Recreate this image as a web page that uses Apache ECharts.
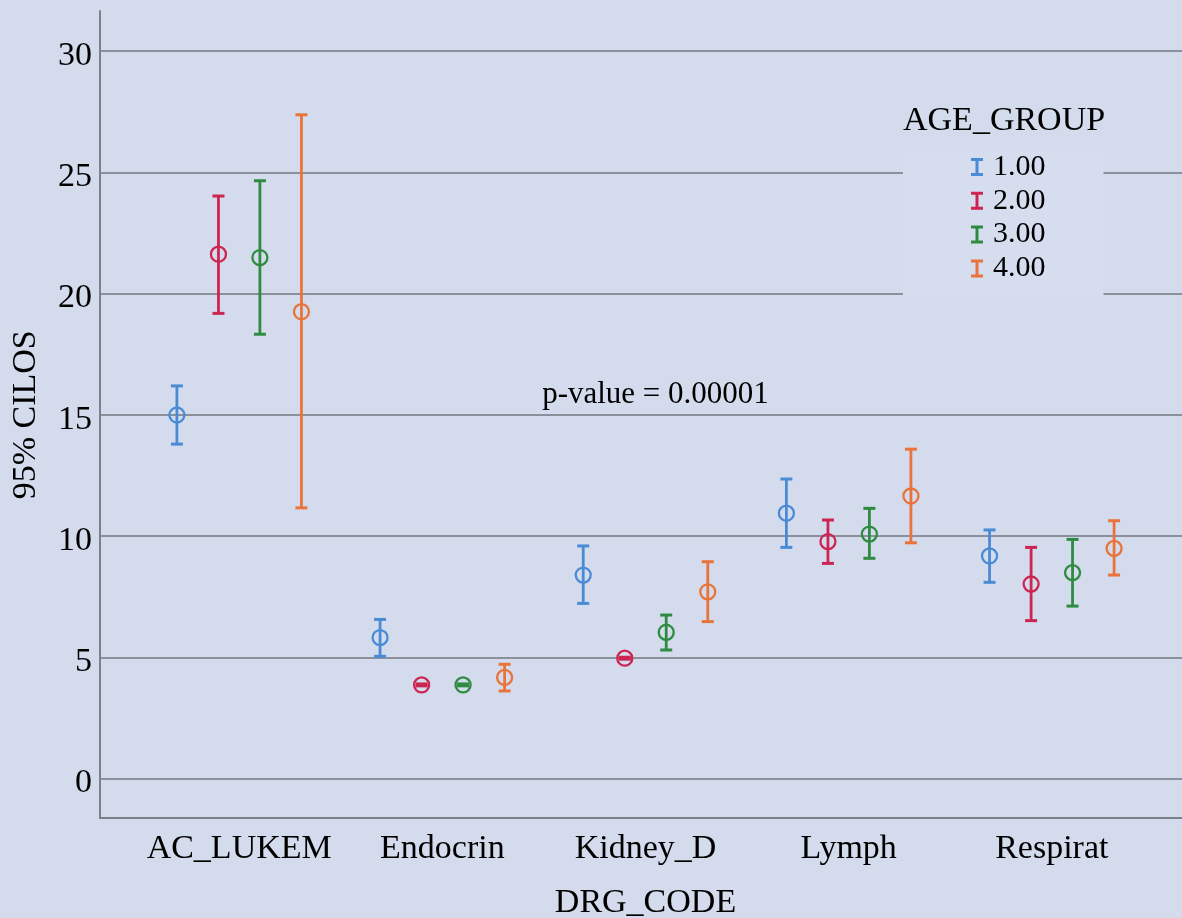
<!DOCTYPE html>
<html>
<head>
<meta charset="utf-8">
<script src="https://cdn.jsdelivr.net/npm/echarts@6/dist/echarts.min.js"></script>
<style>
html,body{margin:0;padding:0;background:#d4dbed;}
#chart{width:1182px;height:918px;}
</style>
</head>
<body>
<div id="chart"></div>
<script>
// ---- data ----
const categories = ['AC_LUKEM', 'Endocrin', 'Kidney_D', 'Lymph', 'Respirat'];
const groupNames = ['1.00', '2.00', '3.00', '4.00'];
const yTicks = [0, 5, 10, 15, 20, 25, 30];

const mean1  = [14.99, 5.81, 8.39, 10.94, 9.18];
const lower1 = [13.79, 5.04, 7.22, 9.53, 8.09];
const upper1 = [16.19, 6.56, 9.59, 12.35, 10.25];

const mean2  = [21.62, 3.86, 4.96, 9.77, 8.02];
const lower2 = [19.18, 3.82, 4.92, 8.87, 6.51];
const upper2 = [24.02, 3.90, 5.00, 10.66, 9.53];

const mean3  = [21.48, 3.86, 6.03, 10.08, 8.49];
const lower3 = [18.32, 3.82, 5.30, 9.08, 7.11];
const upper3 = [24.65, 3.90, 6.74, 11.14, 9.86];

const mean4  = [19.25, 4.17, 7.70, 11.65, 9.49];
const lower4 = [11.16, 3.61, 6.47, 9.72, 8.39];
const upper4 = [27.37, 4.71, 8.94, 13.58, 10.63];

const means = [mean1, mean2, mean3, mean4];
const lowers = [lower1, lower2, lower3, lower4];
const uppers = [upper1, upper2, upper3, upper4];

// ---- style ----
const colors = ['#4a8bd6', '#cc2552', '#2f8b3f', '#e8743b'];
const offsets = [-0.3065, -0.102, 0.102, 0.3065];
const FONT = 'Liberation Serif';
const gridColor = '#8b909b';
const axisColor = '#7b808a';

function makeRender(si) {
  return function (params, api) {
    const ci = api.value(0);
    const m = api.coord([ci, api.value(1)]);
    const lo = api.coord([ci, api.value(2)]);
    const hi = api.coord([ci, api.value(3)]);
    const bw = api.size([1, 0])[0];
    const x = m[0] + offsets[si] * bw;
    const c = api.visual('color');
    const cw = 6;
    return {
      type: 'group',
      children: [
        { type: 'line', shape: { x1: x, y1: hi[1], x2: x, y2: lo[1] }, style: { stroke: c, lineWidth: 2.8 } },
        { type: 'line', shape: { x1: x - cw, y1: hi[1], x2: x + cw, y2: hi[1] }, style: { stroke: c, lineWidth: 3 } },
        { type: 'line', shape: { x1: x - cw, y1: lo[1], x2: x + cw, y2: lo[1] }, style: { stroke: c, lineWidth: 3 } },
        { type: 'circle', shape: { cx: x, cy: m[1], r: 7.5 }, style: { fill: 'none', stroke: c, lineWidth: 2.3 } }
      ]
    };
  };
}

const series = groupNames.map((name, si) => ({
  name: name,
  type: 'custom',
  xAxisIndex: 2,
  yAxisIndex: 2,
  itemStyle: { color: colors[si] },
  renderItem: makeRender(si),
  encode: { x: 0, y: [1, 2, 3] },
  data: categories.map((c, i) => [i, means[si][i], lowers[si][i], uppers[si][i]]),
  z: 5
}));

const chart = echarts.init(document.getElementById('chart'));
chart.setOption({
  animation: false,
  backgroundColor: '#d4dbed',
  grid: [
    { left: 100, right: 0, top: 51, height: 727.5, outerBoundsMode: 'none', containLabel: false },
    { left: 100, right: 0, top: 11, bottom: 100, outerBoundsMode: 'none', containLabel: false },
    { left: 137.6, width: 1015.8, top: 51, height: 727.5, outerBoundsMode: 'none', containLabel: false }
  ],
  xAxis: [
    { gridIndex: 0, type: 'value', min: 0, max: 1, show: false },
    { gridIndex: 1, type: 'value', min: 0, max: 1,
      axisLine: { show: true, lineStyle: { color: axisColor, width: 2 } },
      axisTick: { show: false }, axisLabel: { show: false }, splitLine: { show: false } },
    { gridIndex: 2, type: 'category', data: categories,
      axisLine: { show: false }, axisTick: { show: false }, splitLine: { show: false },
      axisLabel: { interval: 0, fontFamily: FONT, fontSize: 34, color: '#000', margin: 71, verticalAlign: 'middle' },
      name: 'DRG_CODE', nameLocation: 'middle', nameGap: 124.5,
      nameTextStyle: { fontFamily: FONT, fontSize: 34, color: '#000', verticalAlign: 'middle' } }
  ],
  yAxis: [
    { gridIndex: 0, type: 'value', min: 0, max: 30, interval: 5,
      axisLine: { show: false }, axisTick: { show: false },
      splitLine: { show: true, lineStyle: { color: gridColor, width: 2 } },
      axisLabel: { fontFamily: FONT, fontSize: 34, color: '#000', margin: 8,
        verticalAlign: 'top', lineHeight: 10,
        formatter: v => (yTicks.indexOf(v) >= 0 ? String(v) : '') },
      name: '95% CILOS', nameLocation: 'middle', nameRotate: 90, nameGap: 57,
      nameTextStyle: { fontFamily: FONT, fontSize: 34, color: '#000' } },
    { gridIndex: 1, type: 'value', min: 0, max: 1,
      axisLine: { show: true, lineStyle: { color: axisColor, width: 2 } },
      axisTick: { show: false }, axisLabel: { show: false }, splitLine: { show: false } },
    { gridIndex: 2, type: 'value', min: 0, max: 30, show: false }
  ],
  legend: {
    orient: 'vertical',
    left: 903, top: 151,
    padding: [1, 58, 12, 68],
    backgroundColor: '#d6ddee',
    itemWidth: 12, itemHeight: 18, itemGap: 3.8,
    icon: 'path://M0,0L12,0L12,3L7.5,3L7.5,15L12,15L12,18L0,18L0,15L4.5,15L4.5,3L0,3Z',
    selectedMode: false,
    data: groupNames,
    textStyle: { fontFamily: FONT, fontSize: 30, color: '#000', lineHeight: 30, padding: [0, 0, 0, 5] }
  },
  graphic: [
    { type: 'text', left: 903, top: 104, z: 10,
      style: { text: 'AGE_GROUP', font: '34px "Liberation Serif"', fill: '#000' } },
    { type: 'text', x: 655.5, y: 395, z: 10,
      style: { text: 'p-value = 0.00001', font: '31px "Liberation Serif"', fill: '#000', align: 'center', verticalAlign: 'middle' } }
  ],
  series: series
});
</script>
</body>
</html>
